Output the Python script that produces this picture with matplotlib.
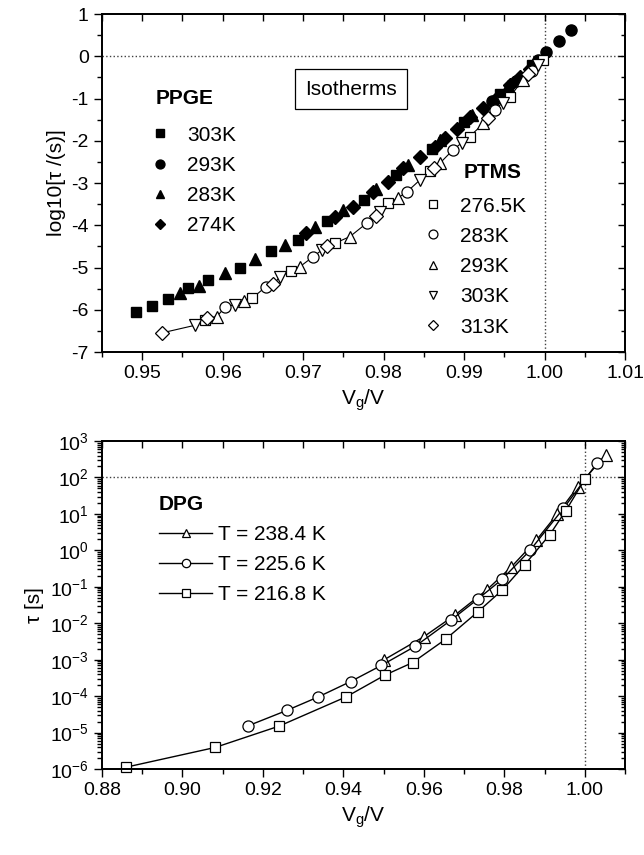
import numpy as np
import matplotlib
matplotlib.use("Agg")
from matplotlib import pyplot as plt
from matplotlib.ticker import MultipleLocator, LogLocator, NullFormatter, FormatStrFormatter

plt.rcParams['font.family'] = ['Liberation Sans', 'DejaVu Sans']
plt.rcParams['mathtext.fontset'] = 'custom'
plt.rcParams['mathtext.rm'] = 'Liberation Sans'
plt.rcParams['mathtext.default'] = 'regular'
plt.rcParams['axes.unicode_minus'] = False

# --- top panel: PPGE (filled) and PTMS (open) isotherms, log10 tau ---
ppge_303_x = [0.9492, 0.9512, 0.9532, 0.9557, 0.9582, 0.9621, 0.9660, 0.9694, 0.9730,
              0.9775, 0.9815, 0.9860, 0.9900, 0.9945, 0.9985]
ppge_303_y = [-6.05, -5.90, -5.74, -5.49, -5.30, -5.00, -4.60, -4.35, -3.90,
              -3.40, -2.82, -2.20, -1.55, -0.90, -0.20]
ppge_293_x = [0.9935, 0.9965, 0.9992, 1.0002, 1.0018, 1.0033]
ppge_293_y = [-1.05, -0.58, -0.09, 0.11, 0.37, 0.62]
ppge_283_x = [0.9547, 0.9570, 0.9603, 0.9640, 0.9677, 0.9715, 0.9750, 0.9790, 0.9830,
              0.9870, 0.9910, 0.9955]
ppge_283_y = [-5.60, -5.43, -5.14, -4.80, -4.47, -4.05, -3.65, -3.15, -2.57,
              -1.98, -1.40, -0.70]
ppge_274_x = [0.9704, 0.9740, 0.9762, 0.9787, 0.9806, 0.9824, 0.9845, 0.9864, 0.9876,
              0.9891, 0.9907, 0.9924, 0.9940, 0.9957, 0.9969, 0.9982]
ppge_274_y = [-4.19, -3.80, -3.56, -3.21, -2.97, -2.65, -2.38, -2.14, -1.94,
              -1.71, -1.43, -1.23, -1.00, -0.68, -0.48, -0.29]

ptms_2765_x = [0.9578, 0.9637, 0.9685, 0.9740, 0.9806, 0.9858, 0.9907, 0.9957, 0.9998]
ptms_2765_y = [-6.24, -5.72, -5.08, -4.42, -3.48, -2.72, -1.90, -0.96, -0.09]
ptms_283_x = [0.9603, 0.9654, 0.9712, 0.9779, 0.9829, 0.9886, 0.9938, 0.9985]
ptms_283_y = [-5.93, -5.45, -4.75, -3.95, -3.21, -2.22, -1.27, -0.35]
ptms_293_x = [0.9593, 0.9626, 0.9696, 0.9758, 0.9818, 0.9870, 0.9924, 0.9973]
ptms_293_y = [-6.16, -5.80, -4.98, -4.27, -3.35, -2.53, -1.59, -0.56]
ptms_303_x = [0.9565, 0.9615, 0.9671, 0.9723, 0.9795, 0.9845, 0.9897, 0.9948, 0.9992]
ptms_303_y = [-6.37, -5.88, -5.22, -4.59, -3.68, -2.93, -2.05, -1.10, -0.21]
ptms_313_x = [0.9524, 0.9580, 0.9663, 0.9730, 0.9790, 0.9862, 0.9930, 0.9980]
ptms_313_y = [-6.55, -6.20, -5.40, -4.50, -3.78, -2.65, -1.45, -0.42]

dpg_238_x = [0.9500, 0.9600, 0.9678, 0.9756, 0.9817, 0.9879, 0.9932, 0.9983, 1.0052]
dpg_238_log = [-3.01, -2.37, -1.77, -1.09, -0.46, 0.27, 1.00, 1.75, 2.62]
dpg_226_x = [0.9162, 0.9260, 0.9336, 0.9418, 0.9494, 0.9579, 0.9667, 0.9735, 0.9794,
             0.9864, 0.9947, 1.0031]
dpg_226_log = [-4.82, -4.39, -4.03, -3.60, -3.16, -2.63, -1.92, -1.33, -0.80,
               0.00, 1.15, 2.40]
dpg_217_x = [0.8860, 0.9081, 0.9241, 0.9407, 0.9504, 0.9572, 0.9654, 0.9735, 0.9795,
             0.9851, 0.9913, 0.9953, 1.0000]
dpg_217_log = [-5.95, -5.41, -4.82, -4.02, -3.42, -3.08, -2.44, -1.68, -1.09,
               -0.39, 0.43, 1.09, 1.95]

FS_TICK = 14
FS_LEG = 15
FS_LAB = 15

fig = plt.figure(figsize=(6.44, 8.55), dpi=100)
ax1 = fig.add_axes([0.1584, 0.5883, 0.8121, 0.3953])
ax2 = fig.add_axes([0.1584, 0.1006, 0.8121, 0.3836])

# top panel
ax1.axhline(0, color='0.25', ls=':', lw=1, zorder=1)
ax1.axvline(1.0, color='0.25', ls=':', lw=1, zorder=1)

ptms_x = np.array(ptms_2765_x + ptms_283_x + ptms_293_x + ptms_303_x + ptms_313_x)
ptms_y = np.array(ptms_2765_y + ptms_283_y + ptms_293_y + ptms_303_y + ptms_313_y)
order = np.argsort(ptms_x)
ax1.plot(ptms_x[order], ptms_y[order], color='k', lw=0.8, zorder=2)

fill = dict(ls='none', color='k', mec='k', zorder=3)
h1 = []
h1.append(ax1.plot(ppge_303_x, ppge_303_y, marker='s', ms=7, **fill)[0])
h1.append(ax1.plot(ppge_293_x, ppge_293_y, marker='o', ms=8, clip_on=False, **fill)[0])
h1.append(ax1.plot(ppge_283_x, ppge_283_y, marker='^', ms=8, **fill)[0])
h1.append(ax1.plot(ppge_274_x, ppge_274_y, marker='D', ms=7, **fill)[0])

opn = dict(ls='none', mfc='white', mec='k', mew=0.9, zorder=4)
h2 = []
h2.append(ax1.plot(ptms_2765_x, ptms_2765_y, marker='s', ms=7, **opn)[0])
h2.append(ax1.plot(ptms_283_x, ptms_283_y, marker='o', ms=8, **opn)[0])
h2.append(ax1.plot(ptms_293_x, ptms_293_y, marker='^', ms=8, **opn)[0])
h2.append(ax1.plot(ptms_303_x, ptms_303_y, marker='v', ms=8, **opn)[0])
h2.append(ax1.plot(ptms_313_x, ptms_313_y, marker='D', ms=7, **opn)[0])

ax1.set_xlim(0.945, 1.01)
ax1.set_ylim(-7, 1)
ax1.xaxis.set_major_locator(MultipleLocator(0.01))
ax1.xaxis.set_minor_locator(MultipleLocator(0.005))
ax1.xaxis.set_major_formatter(FormatStrFormatter('%.2f'))
ax1.yaxis.set_major_locator(MultipleLocator(1))
ax1.yaxis.set_minor_locator(MultipleLocator(0.5))
ax1.set_xlabel('V$_g$/V', fontsize=FS_LAB)
ax1.set_ylabel('log10[τ /(s)]', fontsize=FS_LAB)

legkw = dict(frameon=False, fontsize=FS_LEG, handlelength=0.5, handletextpad=1.05,
             labelspacing=0.54, markerscale=0.8, borderpad=0, borderaxespad=0)
ax1.text(0.1033, 0.7515, 'PPGE', transform=ax1.transAxes, fontsize=FS_LEG,
         fontweight='bold', ha='left', va='center')
leg1 = ax1.legend(h1, ['303K', '293K', '283K', '274K'], loc='upper left',
                  bbox_to_anchor=(0.101, 0.670), **legkw)
ax1.add_artist(leg1)
ax1.text(0.803, 0.5325, 'PTMS', transform=ax1.transAxes, fontsize=FS_LEG,
         fontweight='bold', ha='right', va='center')
ax1.legend(h2, ['276.5K', '283K', '293K', '303K', '313K'], loc='upper left',
           bbox_to_anchor=(0.623, 0.460), **legkw)

ax1.text(0.476, 0.778, 'Isotherms', transform=ax1.transAxes, fontsize=FS_LEG,
         ha='center', va='center',
         bbox=dict(boxstyle='square,pad=0.5', fc='white', ec='k', lw=0.9))

# bottom panel
ax2.axhline(100, color='0.25', ls=':', lw=1, zorder=1)
ax2.axvline(1.0, color='0.25', ls=':', lw=1, zorder=1)

ln = dict(color='k', lw=1, mfc='white', mec='k', mew=0.9, clip_on=False)
h3 = []
h3.append(ax2.plot(dpg_238_x, 10.0 ** np.array(dpg_238_log), marker='^', ms=8, **ln)[0])
h3.append(ax2.plot(dpg_226_x, 10.0 ** np.array(dpg_226_log), marker='o', ms=8, **ln)[0])
h3.append(ax2.plot(dpg_217_x, 10.0 ** np.array(dpg_217_log), marker='s', ms=7, **ln)[0])

ax2.set_yscale('log')
ax2.set_xlim(0.88, 1.01)
ax2.set_ylim(1e-6, 1e3)
ax2.xaxis.set_major_locator(MultipleLocator(0.02))
ax2.xaxis.set_minor_locator(MultipleLocator(0.01))
ax2.xaxis.set_major_formatter(FormatStrFormatter('%.2f'))
ax2.yaxis.set_major_locator(LogLocator(base=10, numticks=20))
ax2.yaxis.set_minor_locator(LogLocator(base=10, subs=np.arange(2, 10), numticks=20))
ax2.yaxis.set_minor_formatter(NullFormatter())
ax2.set_xlabel('V$_g$/V', fontsize=FS_LAB)
ax2.set_ylabel('τ [s]', fontsize=FS_LAB)

ax2.text(0.109, 0.805, 'DPG', transform=ax2.transAxes, fontsize=FS_LEG,
         fontweight='bold', ha='left', va='center')
ax2.legend(h3, ['T = 238.4 K', 'T = 225.6 K', 'T = 216.8 K'], loc='upper left',
           bbox_to_anchor=(0.109, 0.744), frameon=False, fontsize=FS_LEG,
           handlelength=2.55, handletextpad=0.3, labelspacing=0.54,
           markerscale=0.75, borderpad=0, borderaxespad=0)

for ax in (ax1, ax2):
    for s in ax.spines.values():
        s.set_linewidth(1.1)
    ax.tick_params(which='both', labelsize=FS_TICK, width=1, direction='out',
                   top=False, right=False)
    ax.tick_params(which='major', length=6)
    ax.tick_params(which='minor', length=3.5)

# inward ticks on the top/right spines
for ax in (ax1, ax2):
    tx = ax.twiny()
    tx.set_xlim(ax.get_xlim())
    tx.xaxis.set_major_locator(ax.xaxis.get_major_locator())
    tx.xaxis.set_minor_locator(ax.xaxis.get_minor_locator())
    tx.tick_params(which='both', direction='in', labeltop=False, width=1, length=5)
    ty = ax.twinx()
    ty.set_yscale(ax.get_yscale())
    ty.set_ylim(ax.get_ylim())
    ty.yaxis.set_major_locator(ax.yaxis.get_major_locator())
    ty.yaxis.set_minor_locator(ax.yaxis.get_minor_locator())
    ty.yaxis.set_minor_formatter(NullFormatter())
    ty.tick_params(which='both', direction='in', labelright=False, width=1)
    ty.tick_params(which='major', length=5)
    ty.tick_params(which='minor', length=3)
    for t in (tx, ty):
        for s in t.spines.values():
            s.set_linewidth(1.1)

fig.savefig('out.png', dpi=100)
